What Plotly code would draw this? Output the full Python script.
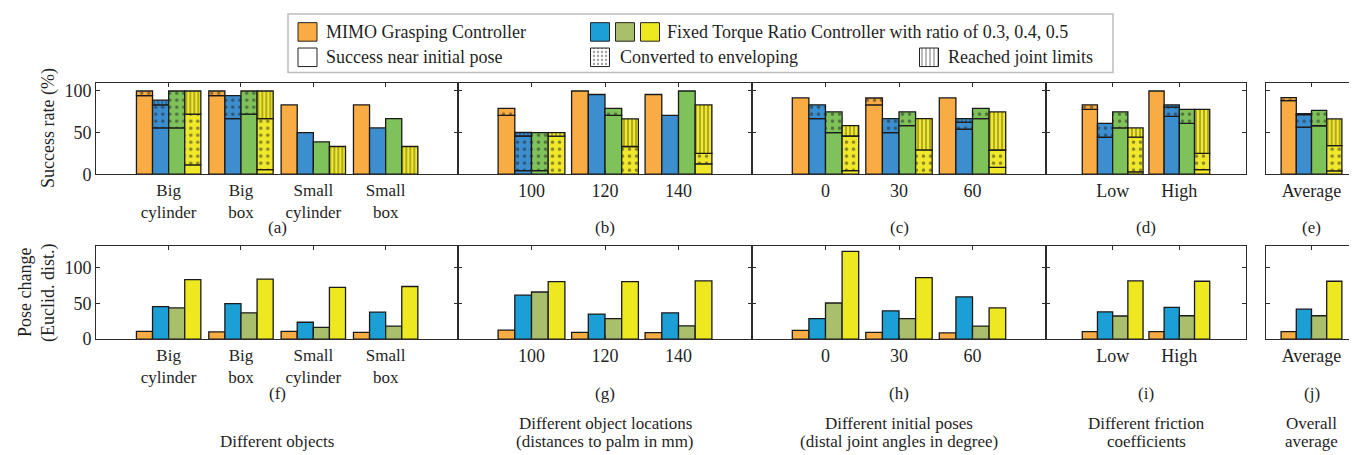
import plotly.graph_objects as go

# ---------------- data ----------------
CAT_A = ["Big<br>cylinder", "Big<br>box", "Small<br>cylinder", "Small<br>box"]
CAT_B = ["100", "120", "140"]
CAT_C = ["0", "30", "60"]
CAT_D = ["Low", "High"]
CAT_E = ["Average"]

# Success-rate segments (%). Rows: MIMO, ratio 0.3, ratio 0.4, ratio 0.5 ; columns: categories
SR_A_NEAR = [[94.4, 94.4, 83.3, 83.3], [55.6, 66.7, 50.0, 55.6], [55.6, 72.2, 38.9, 66.7], [11.1, 5.6, 0, 0]]
SR_A_ENV = [[5.6, 5.6, 0, 0], [27.8, 27.8, 0, 0], [44.4, 27.8, 0, 0], [61.1, 61.1, 0, 0]]
SR_A_LIM = [[0, 0, 0, 0], [5.6, 0, 0, 0], [0, 0, 0, 0], [27.8, 33.3, 33.3, 33.3]]

SR_B_NEAR = [[70.8, 100, 95.8], [4.2, 95.8, 70.8], [4.2, 70.8, 100], [0, 0, 12.5]]
SR_B_ENV = [[8.3, 0, 0], [41.7, 0, 0], [45.8, 8.3, 0], [45.8, 33.3, 12.5]]
SR_B_LIM = [[0, 0, 0], [4.2, 0, 0], [0, 0, 0], [4.2, 33.3, 58.3]]

SR_C_NEAR = [[91.7, 83.3, 91.7], [66.7, 50.0, 54.2], [50.0, 58.3, 66.7], [4.2, 0, 8.3]]
SR_C_ENV = [[0, 8.3, 0], [16.7, 16.7, 8.3], [25.0, 16.7, 12.5], [41.7, 29.2, 20.8]]
SR_C_LIM = [[0, 0, 0], [0, 0, 4.2], [0, 0, 0], [12.5, 37.5, 45.8]]

SR_D_NEAR = [[77.8, 100], [44.4, 69.4], [55.6, 61.1], [2.8, 5.6]]
SR_D_ENV = [[5.6, 0], [16.7, 11.1], [19.4, 16.7], [41.7, 19.4]]
SR_D_LIM = [[0, 0], [0, 2.8], [0, 0], [11.1, 52.8]]

SR_E_NEAR = [[88.5], [56.6], [58.2], [3.9]]
SR_E_ENV = [[3.5], [14.9], [18.4], [30.5]]
SR_E_LIM = [[0], [1.2], [0], [32.0]]

# Pose change (Euclid. dist.). Rows: MIMO, ratio 0.3, 0.4, 0.5
PC_F = [[10.9, 10.0, 10.9, 9.5], [45.5, 49.5, 23.6, 37.7], [43.6, 36.8, 16.4, 18.2], [83.2, 84.0, 72.3, 73.6]]
PC_G = [[12.7, 9.5, 9.1], [61.4, 35.0, 36.8], [65.9, 28.6, 18.6], [80.5, 80.5, 81.4]]
PC_H = [[12.3, 9.5, 8.6], [28.6, 39.5, 59.1], [50.5, 28.6, 18.2], [122.7, 85.9, 43.6]]
PC_I = [[10.5, 10.5], [38.2, 44.5], [32.3, 32.7], [81.4, 80.9]]
PC_J = [[10.5], [41.8], [32.7], [80.9]]

PANEL_TAGS_TOP = ["(a)", "(b)", "(c)", "(d)", "(e)"]
PANEL_TAGS_BOT = ["(f)", "(g)", "(h)", "(i)", "(j)"]
GROUP_TITLES = [
    ["Different objects"],
    ["Different object locations", "(distances to palm in mm)"],
    ["Different initial poses", "(distal joint angles in degree)"],
    ["Different friction", "coefficients"],
    ["Overall", "average"],
]
LEGEND_TEXTS = ["MIMO Grasping Controller", "Fixed Torque Ratio Controller with ratio of 0.3, 0.4, 0.5",
                "Success near initial pose", "Converted to enveloping", "Reached joint limits"]

# ---------------- style ----------------
W, H = 1357, 455
FONT = "Liberation Serif, Times New Roman, Times, serif"
TXT = "#1f1f1f"
AX = "#2b2b2b"
TOP_COLORS = ["#F8AC43", "#3C8ECE", "#7FC25A", "#F0E82B"]
BOT_COLORS = ["#F8AC43", "#1C9FD5", "#A9BF6B", "#EEE820"]
EDGE = dict(color="#1a1a1a", width=1.3)
DOTS = dict(shape=".", fgcolor="#1f1f1f", size=7, solidity=0.2)
LINES = dict(shape="|", fgcolor="#1a1a1a", size=4, solidity=0.3)
NOPAT = dict(shape="")

PANEL_PX = [(88.3, 450), (450, 744), (744, 1038), (1038, 1238), (1257.7, 1349.3)]
BAR_PX = [16.1, 16.7, 16.6, 15.2, 15.2]
TICK_SIZE = [17, 18, 18, 18, 18]
TOP_PY = (75.5, 169.3)
BOT_PY = (243.0, 338.3)


def fx(px):
    return px / W


def fy(py):
    return 1 - py / H


top_panels = [
    (CAT_A, SR_A_NEAR, SR_A_ENV, SR_A_LIM),
    (CAT_B, SR_B_NEAR, SR_B_ENV, SR_B_LIM),
    (CAT_C, SR_C_NEAR, SR_C_ENV, SR_C_LIM),
    (CAT_D, SR_D_NEAR, SR_D_ENV, SR_D_LIM),
    (CAT_E, SR_E_NEAR, SR_E_ENV, SR_E_LIM),
]
bot_panels = [(CAT_A, PC_F), (CAT_B, PC_G), (CAT_C, PC_H), (CAT_D, PC_I), (CAT_E, PC_J)]

fig = go.Figure()
layout = dict(
    width=W, height=H, margin=dict(l=0, r=0, t=0, b=0),
    paper_bgcolor="white", plot_bgcolor="white", barmode="overlay", showlegend=False,
    font=dict(family=FONT, size=18, color=TXT),
)
annotations = []
shapes = []


def axis_common(size):
    return dict(showline=True, mirror="allticks", linecolor=AX, linewidth=1.2,
                ticks="inside", ticklen=4, tickcolor=AX, tickwidth=1,
                showgrid=False, zeroline=False, fixedrange=True,
                tickfont=dict(family=FONT, size=size, color=TXT))


idx = 0
for row in range(2):
    for p in range(5):
        idx += 1
        xa = "xaxis" if idx == 1 else f"xaxis{idx}"
        ya = "yaxis" if idx == 1 else f"yaxis{idx}"
        xr = "x" if idx == 1 else f"x{idx}"
        yr = "y" if idx == 1 else f"y{idx}"
        px0, px1 = PANEL_PX[p]
        py0, py1 = TOP_PY if row == 0 else BOT_PY
        cats = top_panels[p][0] if row == 0 else bot_panels[p][0]
        n = len(cats)
        xs = list(range(1, n + 1))
        unit_px = (px1 - px0) / (n + 1)
        w = BAR_PX[p] / unit_px

        xax = axis_common(TICK_SIZE[p])
        xax.update(domain=[fx(px0), fx(px1)], range=[0, n + 1], tickvals=xs, ticktext=cats,
                   anchor=yr)
        yax = axis_common(18)
        yax.update(domain=[fy(py1), fy(py0)], range=[0, 110] if row == 0 else [0, 130],
                   tickvals=[0, 50, 100], showticklabels=(p == 0), anchor=xr)
        layout[xa] = xax
        layout[ya] = yax

        if row == 0:
            _, near, env, lim = top_panels[p]
            for k in range(4):
                bottom = [0.0] * n
                for seg, pat in ((near[k], NOPAT), (env[k], DOTS), (lim[k], LINES)):
                    yv = [v if v > 0 else None for v in seg]
                    fig.add_trace(go.Bar(
                        x=xs, y=yv, base=bottom, width=w, offset=(k - 2) * w,
                        marker=dict(color=TOP_COLORS[k], line=EDGE, pattern=pat),
                        xaxis=xr, yaxis=yr, hoverinfo="skip"))
                    bottom = [b + v for b, v in zip(bottom, seg)]
        else:
            _, vals = bot_panels[p]
            for k in range(4):
                fig.add_trace(go.Bar(
                    x=xs, y=vals[k], width=w, offset=(k - 2) * w,
                    marker=dict(color=BOT_COLORS[k], line=EDGE),
                    xaxis=xr, yaxis=yr, hoverinfo="skip"))

        cx = (px0 + px1) / 2
        tag = PANEL_TAGS_TOP[p] if row == 0 else PANEL_TAGS_BOT[p]
        annotations.append(dict(text=tag, x=fx(cx), y=fy(224 if row == 0 else 394),
                                xref="paper", yref="paper", showarrow=False,
                                xanchor="center", yanchor="middle",
                                font=dict(family=FONT, size=17, color=TXT)))

# group titles under the bottom row
for p in range(5):
    cx = (PANEL_PX[p][0] + PANEL_PX[p][1]) / 2
    lines = GROUP_TITLES[p]
    ys = [443] if len(lines) == 1 else [425, 443]
    for t, yy in zip(lines, ys):
        annotations.append(dict(text=t, x=fx(cx), y=fy(yy), xref="paper", yref="paper",
                                showarrow=False, xanchor="center", yanchor="middle",
                                font=dict(family=FONT, size=17, color=TXT)))

# y-axis titles
annotations.append(dict(text="Success rate (%)", x=fx(40), y=fy(122), xref="paper", yref="paper",
                        showarrow=False, textangle=-90, xanchor="center", yanchor="middle",
                        font=dict(family=FONT, size=18, color=TXT)))
annotations.append(dict(text="Pose change", x=fx(17), y=fy(291), xref="paper", yref="paper",
                        showarrow=False, textangle=-90, xanchor="center", yanchor="middle",
                        font=dict(family=FONT, size=18, color=TXT)))
annotations.append(dict(text="(Euclid. dist.)", x=fx(41), y=fy(291), xref="paper", yref="paper",
                        showarrow=False, textangle=-90, xanchor="center", yanchor="middle",
                        font=dict(family=FONT, size=18, color=TXT)))

# ---------------- legend (drawn on a hidden pixel-scaled axis) ----------------
LX0, LX1, LY0, LY1 = 280, 1105, 5, 65
layout["xaxis11"] = dict(domain=[fx(LX0), fx(LX1)], range=[LX0, LX1], visible=False, fixedrange=True, anchor="y11")
layout["yaxis11"] = dict(domain=[fy(LY1), fy(LY0)], range=[LY1, LY0], visible=False, fixedrange=True, anchor="x11")
shapes.append(dict(type="rect", xref="paper", yref="paper", x0=fx(LX0), x1=fx(LX1), y0=fy(LY1), y1=fy(LY0),
                   line=dict(color="#bdbdbd", width=1.5), fillcolor="white", layer="below"))
SW = 19
swatches = [
    (299.5, 14, BOT_COLORS[0], NOPAT),
    (592, 14, BOT_COLORS[1], NOPAT),
    (617, 14, BOT_COLORS[2], NOPAT),
    (642, 14, BOT_COLORS[3], NOPAT),
    (299.5, 40, "white", NOPAT),
    (592, 40, "white", dict(shape=".", fgcolor="#444", size=4, solidity=0.3)),
    (921, 40, "white", dict(shape="|", fgcolor="#1a1a1a", size=4, solidity=0.3)),
]
for cx, top, col, pat in swatches:
    fig.add_trace(go.Bar(x=[cx], y=[SW], base=[top], width=SW, xaxis="x11", yaxis="y11",
                         marker=dict(color=col, line=dict(color="#222", width=1), pattern=pat),
                         hoverinfo="skip"))
legend_pos = [(316, 24), (657, 24), (316, 49), (610, 49), (938, 49)]
for t, (lx, ly) in zip(LEGEND_TEXTS, legend_pos):
    annotations.append(dict(text=t, x=fx(lx), y=fy(ly), xref="paper", yref="paper", showarrow=False,
                            xanchor="left", yanchor="middle", font=dict(family=FONT, size=18, color=TXT)))

layout["annotations"] = annotations
layout["shapes"] = shapes
fig.update_layout(**layout)
fig.write_html("out.html")
